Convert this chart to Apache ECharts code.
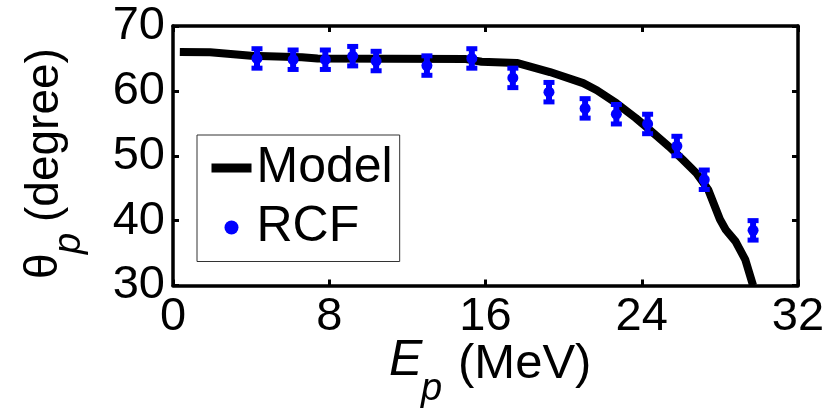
<!DOCTYPE html>
<html>
<head>
<meta charset="utf-8">
<script src="https://cdn.jsdelivr.net/npm/echarts@6/dist/echarts.min.js"></script>
<style>
  html, body { margin: 0; padding: 0; background: #ffffff; }
  #chart { width: 833px; height: 415px; }
</style>
</head>
<body>
<div id="chart"></div>
<script>
// Axis ticks
const xTickValues = [0, 8, 16, 24, 32];
const yTickValues = [30, 40, 50, 60, 70];

// Model curve: proton energy (MeV) vs. emission angle (degree)
const modelE =     [0.35, 1.9, 4.0, 6.6, 7.4, 15.0, 15.8, 17.6, 19.3, 21.0, 21.7, 22.7, 23.7, 24.4, 25.4, 26.1, 26.8, 27.4, 28.0, 28.3, 28.8, 29.3, 29.7];
const modelTheta = [66.0, 65.95, 65.4, 65.2, 65.0, 64.9, 64.5, 64.3, 62.9, 61.2, 60.1, 58.1, 55.8, 54.0, 51.4, 49.4, 47.3, 44.8, 40.2, 38.6, 36.8, 34.0, 30.0];

// RCF measurements with error bars
const rcfE =     [4.3, 6.15, 7.8, 9.2, 10.4, 13.0, 15.3, 17.4, 19.25, 21.1, 22.7, 24.3, 25.8, 27.2, 29.7];
const rcfTheta = [65.0, 64.8, 64.8, 65.35, 64.6, 63.9, 65.0, 62.0, 59.8, 57.3, 56.4, 54.9, 51.5, 46.3, 38.5];
const rcfErr =   [1.5, 1.5, 1.5, 1.5, 1.5, 1.5, 1.5, 1.5, 1.5, 1.5, 1.5, 1.5, 1.5, 1.5, 1.5];

const FONT = '"Liberation Sans", Arial, Helvetica, sans-serif';
const BLUE = '#0000ff';
const BLACK = '#000000';

function valueAxis(ticks, position, showLabels) {
  return {
    type: 'value',
    position: position,
    min: ticks[0],
    max: ticks[ticks.length - 1],
    interval: ticks[1] - ticks[0],
    axisLine: { show: true, onZero: false, lineStyle: { color: BLACK, width: 3.5 } },
    axisTick: { show: true, inside: true, length: 6, lineStyle: { color: BLACK, width: 3 } },
    axisLabel: { show: showLabels, color: BLACK, fontSize: 47, fontFamily: FONT, margin: 8 },
    splitLine: { show: false }
  };
}

// Vertical error bar with caps at each measured point
function renderErrorBar(params, api) {
  const x = api.value(0), y = api.value(1), err = api.value(2);
  const c = api.coord([x, y]);
  const hi = api.coord([x, y + err])[1];
  const lo = api.coord([x, y - err])[1];
  const cap = 5.5;
  const capStyle = { stroke: BLUE, lineWidth: 5, fill: null };
  const barStyle = { stroke: BLUE, lineWidth: 6, fill: null };
  return {
    type: 'group',
    children: [
      { type: 'line', shape: { x1: c[0], y1: hi, x2: c[0], y2: lo }, style: barStyle },
      { type: 'line', shape: { x1: c[0] - cap, y1: hi, x2: c[0] + cap, y2: hi }, style: capStyle },
      { type: 'line', shape: { x1: c[0] - cap, y1: lo, x2: c[0] + cap, y2: lo }, style: capStyle }
    ]
  };
}

const chart = echarts.init(document.getElementById('chart'), null, { renderer: 'canvas' });

chart.setOption({
  animation: false,
  backgroundColor: '#ffffff',
  grid: { left: 173, right: 35, top: 26, bottom: 129.5, containLabel: false },
  xAxis: [valueAxis(xTickValues, 'bottom', true), valueAxis(xTickValues, 'top', false)],
  yAxis: [valueAxis(yTickValues, 'left', true), valueAxis(yTickValues, 'right', false)],
  legend: {
    orient: 'vertical',
    left: 197,
    top: 135,
    padding: [8, 7, 9, 10],
    itemGap: 9.5,
    itemWidth: 40,
    itemHeight: 14,
    backgroundColor: '#ffffff',
    borderColor: '#333333',
    borderWidth: 1,
    borderRadius: 0,
    textStyle: { color: BLACK, fontSize: 50, fontFamily: FONT },
    data: [
      { name: 'Model', lineStyle: { width: 9, color: BLACK }, itemStyle: { opacity: 0 } },
      { name: 'RCF', icon: 'circle', itemStyle: { color: BLUE, opacity: 1 } }
    ]
  },
  series: [
    {
      name: 'Model',
      type: 'line',
      data: modelE.map((e, i) => [e, modelTheta[i]]),
      symbol: 'none',
      clip: true,
      lineStyle: { color: BLACK, width: 8, join: 'round', cap: 'butt' },
      itemStyle: { color: BLACK },
      z: 2
    },
    {
      name: 'RCF error',
      type: 'custom',
      renderItem: renderErrorBar,
      data: rcfE.map((e, i) => [e, rcfTheta[i], rcfErr[i]]),
      encode: { x: 0, y: 1 },
      z: 3
    },
    {
      name: 'RCF',
      type: 'scatter',
      data: rcfE.map((e, i) => [e, rcfTheta[i]]),
      symbol: 'circle',
      symbolSize: 11,
      itemStyle: { color: BLUE, opacity: 1 },
      z: 4
    }
  ],
  graphic: [
    // x-axis title: E_p (MeV)
    { type: 'text', x: 389, y: 361.5, style: { text: 'E', font: 'italic 50px ' + FONT, fill: BLACK, align: 'left', verticalAlign: 'middle' } },
    { type: 'text', x: 421, y: 389, style: { text: 'p', font: 'italic 38px ' + FONT, fill: BLACK, align: 'left', verticalAlign: 'middle' } },
    { type: 'text', x: 458, y: 364, style: { text: '(MeV)', font: '49px ' + FONT, fill: BLACK, align: 'left', verticalAlign: 'middle' } },
    // y-axis title: θ_p (degree), reading bottom to top
    {
      type: 'group', x: 0, y: 279, rotation: Math.PI / 2,
      children: [
        { type: 'text', x: 0, y: 44, style: { text: 'θ', font: '46px ' + FONT, fill: BLACK, align: 'left', verticalAlign: 'middle' } },
        { type: 'text', x: 25, y: 69, style: { text: 'p', font: 'italic 38px ' + FONT, fill: BLACK, align: 'left', verticalAlign: 'middle' } },
        { type: 'text', x: 57, y: 45.6, style: { text: '(degree)', font: '46px ' + FONT, fill: BLACK, align: 'left', verticalAlign: 'middle' } }
      ]
    }
  ]
});
</script>
</body>
</html>
